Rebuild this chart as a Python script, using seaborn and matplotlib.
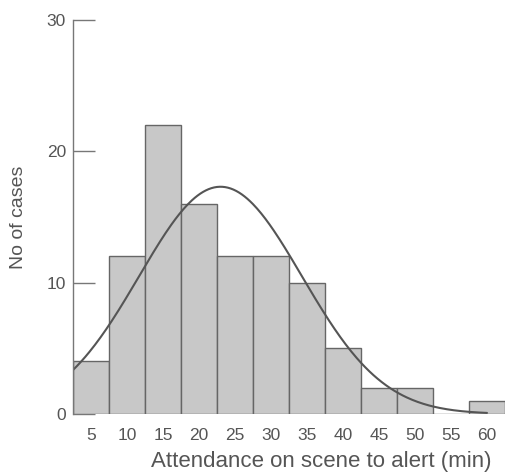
import numpy as np
import pandas as pd
import matplotlib
matplotlib.use("Agg")
import matplotlib.pyplot as plt
import seaborn as sns

# Data
bin_centers = [5, 10, 15, 20, 25, 30, 35, 40, 45, 50, 55, 60]
counts = [4, 12, 22, 16, 12, 12, 10, 5, 2, 2, 0, 1]
# Fitted normal curve parameters
fit_mean = 23.0
fit_sd = 11.3
bin_width = 5
x_ticks = [5, 10, 15, 20, 25, 30, 35, 40, 45, 50, 55, 60]
y_ticks = [0, 10, 20, 30]

sns.set_theme(style="white")
plt.rcParams['font.family'] = ['Liberation Sans', 'DejaVu Sans']

text_col = "#555555"
fig = plt.figure(figsize=(5.06, 4.74), dpi=100)
ax = fig.add_axes([0.144, 0.1266, 0.854, 0.8314])

df = pd.DataFrame({"x": bin_centers, "n": counts})
sns.histplot(data=df, x="x", weights="n", binwidth=bin_width,
             binrange=(2.5, 62.5), color="#c8c8c8", edgecolor="#666666",
             linewidth=1.0, alpha=1.0, ax=ax)

n_total = sum(counts)
xs = np.linspace(2.5, 60, 300)
ys = n_total * bin_width / (fit_sd * np.sqrt(2 * np.pi)) * np.exp(-0.5 * ((xs - fit_mean) / fit_sd) ** 2)
sns.lineplot(x=xs, y=ys, color="#555555", linewidth=1.5, ax=ax)

ax.set_xlim(2.5, 62.5)
ax.set_ylim(0, 30)
ax.set_xticks(x_ticks)
ax.set_yticks(y_ticks)
ax.tick_params(axis="x", length=0, labelsize=12.5, colors=text_col, pad=10)
ax.tick_params(axis="y", direction="in", length=16, width=1.0, color="#777777",
               labelsize=12.5, labelcolor=text_col, pad=5, left=True)
for s in ["top", "right", "bottom"]:
    ax.spines[s].set_visible(False)
ax.spines["left"].set_color("#777777")
ax.spines["left"].set_linewidth(1.0)
ax.set_xlabel("Attendance on scene to alert (min)", fontsize=16, color=text_col)
ax.xaxis.set_label_coords(0.574, -0.094)
ax.set_ylabel("No of cases", fontsize=14, color=text_col)
ax.yaxis.set_label_coords(-0.105, 0.5)

fig.savefig("out.png", dpi=100)
